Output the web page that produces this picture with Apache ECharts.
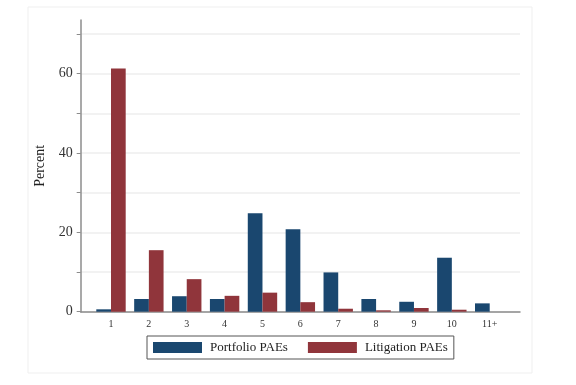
<!DOCTYPE html>
<html>
<head>
<meta charset="utf-8">
<script src="https://cdn.jsdelivr.net/npm/echarts@6/dist/echarts.min.js"></script>
<style>html,body{margin:0;padding:0;background:#fff}#c{width:576px;height:385px}</style>
</head>
<body>
<div id="c"></div>
<script>
const categories = [1, 2, 3, 4, 5, 6, 7, 8, 9, 10, 11];
const tickLabels = ['1', '2', '3', '4', '5', '6', '7', '8', '9', '10', '11+'];
const portfolio = [0.6, 3.2, 3.9, 3.2, 24.8, 20.8, 9.9, 3.2, 2.5, 13.6, 2.1];
const litigation = [61.3, 15.5, 8.2, 4.0, 4.8, 2.4, 0.75, 0.35, 0.93, 0.5, 0];
const yTicks = [0, 10, 20, 30, 40, 50, 60, 70];
const yLabels = [0, 20, 40, 60];

const serif = '"Liberation Serif", "DejaVu Serif", serif';
const chart = echarts.init(document.getElementById('c'), null, {renderer: 'canvas'});
chart.setOption({
  animation: false,
  backgroundColor: '#fff',
  graphic: [{
    type: 'rect', shape: {x: 28, y: 7, width: 504, height: 366},
    style: {fill: 'none', stroke: '#efefef', lineWidth: 1}, silent: true, z: -1
  }],
  grid: {left: 80.7, right: 56, top: 20, bottom: 73.3, containLabel: false},
  legend: {
    data: ['Portfolio PAEs', 'Litigation PAEs'],
    left: 147, top: 336,
    orient: 'horizontal',
    itemWidth: 49, itemHeight: 11, itemGap: 20,
    padding: [5, 6, 5, 6],
    borderColor: '#555', borderWidth: 1,
    icon: 'rect',
    textStyle: {fontFamily: serif, fontSize: 13, color: '#222', padding: [0, 0, 0, 3]}
  },
  xAxis: {
    type: 'value', min: 0.2, max: 11.8,
    axisLine: {show: true, lineStyle: {color: '#8c8c8c', width: 1.5}},
    axisTick: {show: false},
    splitLine: {show: false},
    axisLabel: {
      customValues: categories,
      formatter: v => tickLabels[categories.indexOf(Math.round(v))] || '',
      fontFamily: serif, fontSize: 10, color: '#333', margin: 8
    }
  },
  yAxis: {
    type: 'value', min: 0, max: 73.5,
    name: 'Percent', nameLocation: 'middle', nameGap: 27, nameRotate: 90,
    nameTextStyle: {fontFamily: serif, fontSize: 14, color: '#222'},
    axisLine: {show: true, lineStyle: {color: '#8c8c8c', width: 1.5}},
    axisTick: {show: true, customValues: yTicks, length: 4, lineStyle: {color: '#8c8c8c'}},
    axisLabel: {customValues: yLabels, fontFamily: serif, fontSize: 14, color: '#333', margin: 8},
    splitLine: {show: true, lineStyle: {color: '#eeeeee', width: 1.5}}
  },
  series: [
    {
      name: 'Portfolio PAEs', type: 'bar',
      data: categories.map((c, i) => [c, portfolio[i]]),
      barWidth: 14.7, barGap: '0%',
      itemStyle: {color: '#1a476f'}
    },
    {
      name: 'Litigation PAEs', type: 'bar',
      data: categories.map((c, i) => [c, litigation[i]]),
      barWidth: 14.7, barGap: '0%',
      itemStyle: {color: '#90353b'}
    }
  ]
});
</script>
</body>
</html>
